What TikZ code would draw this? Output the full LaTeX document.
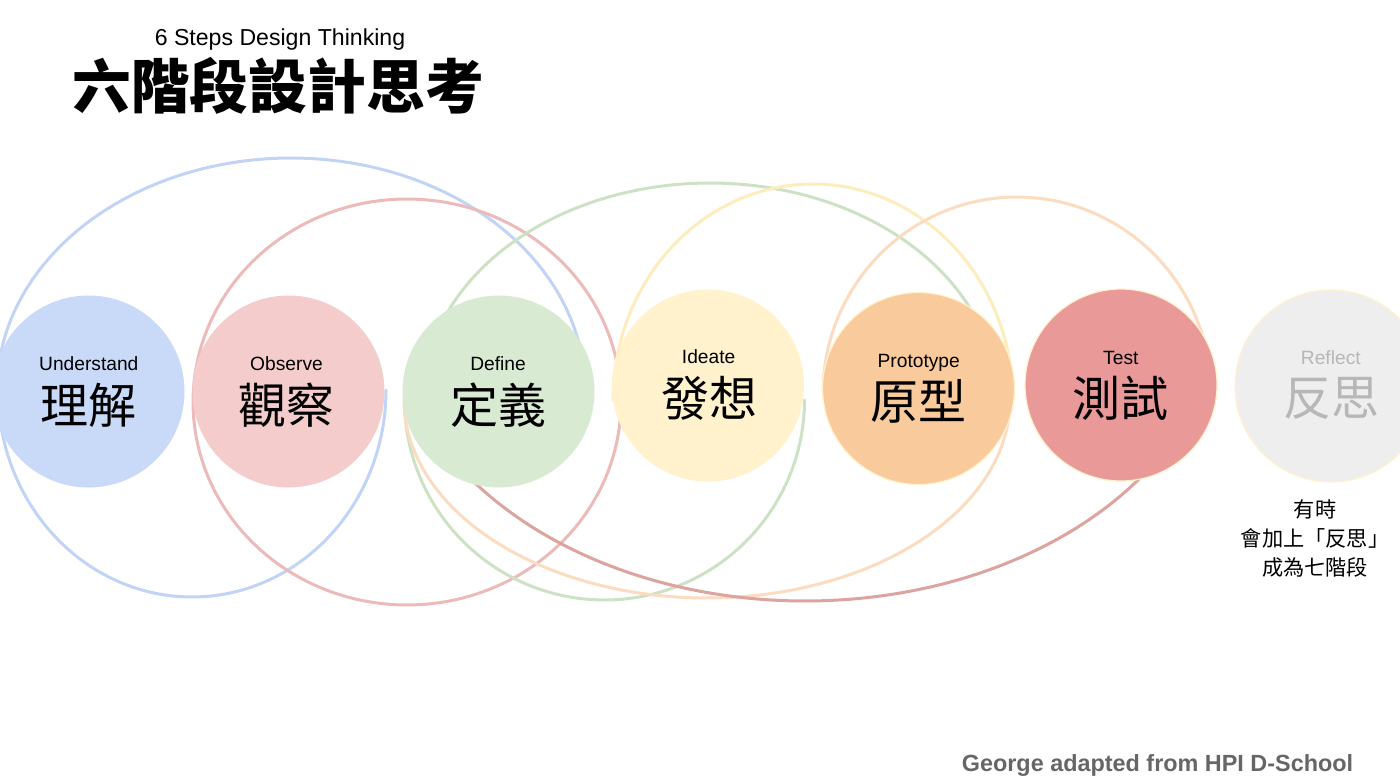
\documentclass[tikz,border=0pt]{standalone}
\usepackage{fontspec}
\setmainfont{Liberation Sans}
\newfontfamily\cjk{Noto Sans CJK TC}
\definecolor{blueF}{HTML}{C9DAF8}
\definecolor{blueA}{HTML}{C2D4F6}
\definecolor{pinkF}{HTML}{F4CCCC}
\definecolor{pinkA}{HTML}{EDBABA}
\definecolor{greenF}{HTML}{D9EAD3}
\definecolor{greenA}{HTML}{CDE2C4}
\definecolor{yellowF}{HTML}{FFF2CC}
\definecolor{yellowA}{HTML}{FDECBC}
\definecolor{orangeF}{HTML}{F9CB9C}
\definecolor{orangeA}{HTML}{FBDCC0}
\definecolor{redF}{HTML}{EA9999}
\definecolor{redA}{HTML}{DCA39F}
\definecolor{greyF}{HTML}{EEEEEE}
\definecolor{greyT}{HTML}{B7B7B7}
\definecolor{footT}{HTML}{666666}
\begin{document}
\begin{tikzpicture}[x=0.5pt,y=-0.5pt,
  stage/.style={circle, minimum size=96pt, inner sep=0pt},
  rim/.style={draw=yellowF, line width=0.6pt},
  loopline/.style={line width=1.5pt, line cap=round},
  en/.style={anchor=base, inner sep=0pt, font=\fontsize{9.6}{11}\selectfont},
  zh/.style={inner sep=0pt, font=\cjk\fontsize{24}{28}\selectfont},
]
\useasboundingbox[fill=white] (0,0) rectangle (1400,782);

% loops (drawn behind the stage circles)
\draw[loopline, blueA] plot[domain=180:360, samples=120] ({291+294*cos(\x)},{390+232*sin(\x)});
\draw[loopline, blueA] plot[domain=180:0, samples=120] ({192+194*cos(\x)},{390+207*sin(\x)});
\draw[loopline, pinkA] plot[domain=0:360, samples=160] ({407+214*cos(\x)},{402+203*sin(\x)}) -- cycle;
\draw[loopline, greenA] plot[domain=180:360, samples=120] ({710+287*cos(\x)},{400+217*sin(\x)});
\draw[loopline, greenA] plot[domain=180:0, samples=120] ({604.5+200*cos(\x)},{400+200*sin(\x)});
\draw[loopline, yellowA] plot[domain=180:360, samples=120] ({813+200*cos(\x)},{400+216*sin(\x)});
\draw[loopline, orangeA] plot[domain=180:360, samples=120] ({1017+194*cos(\x)},{393+196*sin(\x)});
\draw[loopline, orangeA] plot[domain=180:0, samples=120] ({707+303*cos(\x)},{400+198*sin(\x)});
\draw[loopline, redA] plot[domain=150:30, samples=120] ({805+415*cos(\x)},{301+300*sin(\x)});

% stage circles
\node[stage, fill=blueF] (und) at (88.5,391.5) {};
\node[stage, fill=pinkF] (obs) at (288.5,391.5) {};
\node[stage, fill=greenF] (def) at (498.5,391.5) {};
\node[stage, fill=yellowF] (ide) at (708,385.5) {};
\node[stage, fill=orangeF, rim] (pro) at (918.5,388.5) {};
\node[stage, fill=redF, rim] (tes) at (1121,385) {};
\node[stage, fill=greyF, rim] (ref) at (1331,386) {};

% stage labels
\node[en] (undEn) at (88.8,370.5) {Understand};
\node[zh] (undZh) at (88.8,405) {理解};
\node[en] (obsEn) at (286.5,370.5) {Observe};
\node[zh] (obsZh) at (286,405) {觀察};
\node[en] (defEn) at (498,370.5) {Define};
\node[zh] (defZh) at (498,405) {定義};
\node[en] (ideEn) at (708.6,363.5) {Ideate};
\node[zh] (ideZh) at (709,398) {發想};
\node[en] (proEn) at (918.7,367.3) {Prototype};
\node[zh] (proZh) at (918.5,401.5) {原型};
\node[en] (tesEn) at (1120.8,364.3) {Test};
\node[zh] (tesZh) at (1120.5,398.3) {測試};
\node[en, text=greyT] (refEn) at (1330.8,364.3) {Reflect};
\node[zh, text=greyT] (refZh) at (1331,398.3) {反思};

% note under Reflect
\node[align=center, inner sep=0pt, font=\cjk\fontsize{10.6}{14.3}\selectfont] (note) at (1315,538.5)
  {有時\\會加上「反思」\\成為七階段};

% title
\node[anchor=base, inner sep=0pt, font=\fontsize{11.55}{13}\selectfont] (sub) at (280,45) {6 Steps Design Thinking};
\node[inner sep=0pt, font=\cjk\bfseries\fontsize{29.4}{32}\selectfont] (title) at (278,86) {六階段設計思考};

% footer
\node[anchor=base, inner sep=0pt, text=footT, font=\bfseries\fontsize{11.7}{13}\selectfont] (foot) at (1157.5,771.5) {George adapted from HPI D-School};
\end{tikzpicture}
\end{document}
